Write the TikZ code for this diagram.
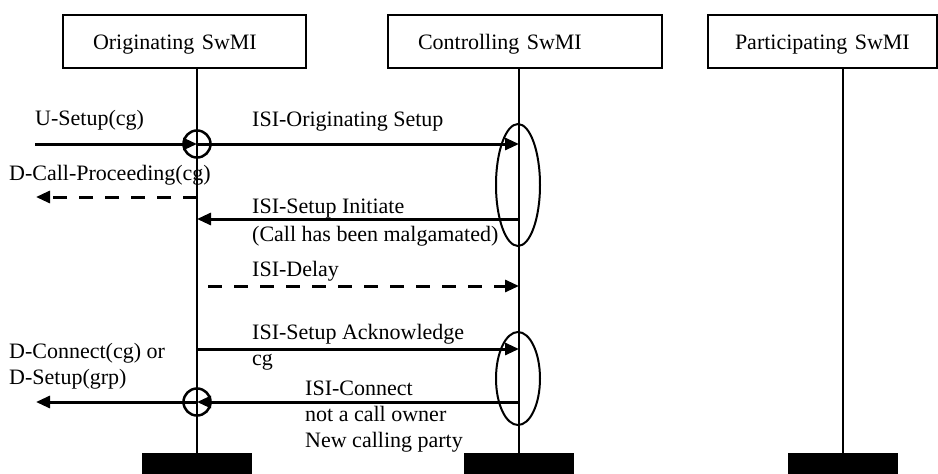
\documentclass[tikz,border=0pt]{standalone}
\usepackage{fontspec}
\setmainfont{Liberation Serif}
\usetikzlibrary{arrows.meta, shapes.geometric, positioning}

\begin{document}
\begin{tikzpicture}[x=1pt, y=-1pt,
  every node/.style={font=\fontsize{22}{26}\selectfont},
  swmi/.style={draw, line width=2pt, minimum height=53pt, inner xsep=30pt,
    inner ysep=0pt, align=left, text height=18pt, text depth=3pt,
    anchor=north west},
  lifeline/.style={line width=2pt},
  msg/.style={line width=3pt, -{Triangle[length=14pt, width=12pt]}},
  dmsg/.style={msg, dash pattern=on 14pt off 12pt},
  msglabel/.style={anchor=base west, inner sep=0pt, align=left},
  relay/.style={circle, draw, line width=2.5pt, minimum size=27pt, inner sep=0pt},
  span/.style={ellipse, draw, line width=2pt, minimum width=44pt, inner sep=0pt},
  endbar/.style={fill=black, minimum width=110pt, minimum height=21pt, inner sep=0pt}
]

  \useasboundingbox (0,0) rectangle (938,474);

  % SwMI boxes
  \node[swmi, text width=183pt] (orig) at (62,14) {Originating SwMI};
  \node[swmi, text width=214pt] (ctrl) at (387,14) {Controlling SwMI};
  \node[swmi, text width=175pt, inner xsep=27pt] (part) at (707,14) {Participating SwMI};

  % End bars
  \node[endbar] (obar) at (197,463.5) {};
  \node[endbar] (cbar) at (519,463.5) {};
  \node[endbar] (pbar) at (843,463.5) {};

  % Lifelines
  \draw[lifeline] (obar |- orig.south) -- (obar.north);
  \draw[lifeline] (cbar |- ctrl.south) -- (cbar.north);
  \draw[lifeline] (pbar |- part.south) -- (pbar.north);

  % Relay circles and spans on the controlling SwMI
  \node[relay] (oc1) at (197,144) {};
  \node[relay] (oc2) at (197,402) {};
  \node[span, minimum height=122pt] (cs1) at (518,185) {};
  \node[span, minimum height=93pt] (cs2) at (518,378.5) {};

  % Message ends
  \coordinate (usetup) at (35,144);
  \coordinate (proc) at (36,197);
  \coordinate (init) at (519,219);
  \coordinate (delay) at (208,286);
  \coordinate (ack) at (197,349);
  \coordinate (conn) at (519,402);
  \coordinate (dconn) at (36,402);

  % Messages
  \draw[msg] (usetup) -- (oc1.center);
  \draw[msg] (oc1.center) -- (oc1 -| cbar);
  \draw[dmsg] (proc -| obar) -- (proc);
  \draw[msg] (init) -- (init -| obar);
  \draw[dmsg] (delay) -- (delay -| cbar);
  \draw[msg] (ack) -- (ack -| cbar);
  \draw[msg] (conn) -- (oc2.center);
  \draw[msg] (oc2.center) -- (dconn);

  % Labels (base = last line)
  \node[msglabel] (l-usetup) at (35,125) {U-Setup(cg)};
  \node[msglabel] (l-origsetup) at (252,126) {ISI-Originating Setup};
  \node[msglabel] (l-proc) at (9,180) {D-Call-Proceeding(cg)};
  \node[msglabel, font=\fontsize{22}{28}\selectfont] (l-init) at (252,241)
    {ISI-Setup Initiate\\(Call has been malgamated)};
  \node[msglabel] (l-delay) at (252,276) {ISI-Delay};
  \node[msglabel] (l-ack) at (252,365) {ISI-Setup Acknowledge\\cg};
  \node[msglabel] (l-dconn) at (9,384) {D-Connect(cg) or\\D-Setup(grp)};
  \node[msglabel] (l-conn) at (305,447) {ISI-Connect\\not a call owner\\New calling party};

\end{tikzpicture}
\end{document}
